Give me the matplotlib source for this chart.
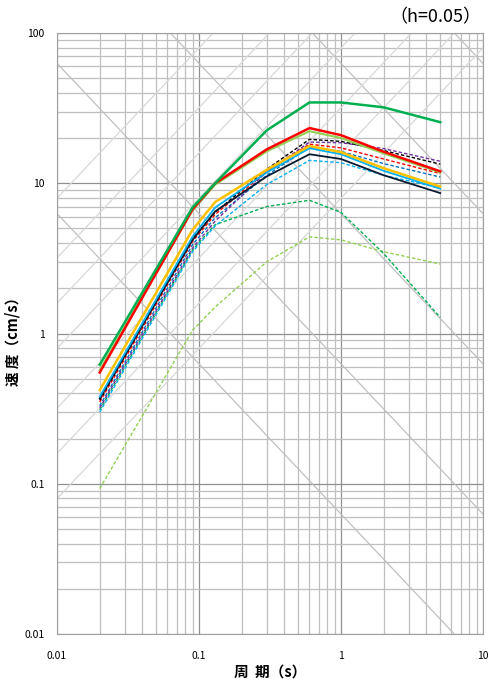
import numpy as np
import matplotlib
matplotlib.use('Agg')
import matplotlib.pyplot as plt
from matplotlib.ticker import LogLocator, NullFormatter, FixedLocator, FixedFormatter

plt.rcParams['font.family'] = ['Noto Sans CJK JP', 'DejaVu Sans']

# 周期 (s)
periods = [0.02, 0.09, 0.13, 0.3, 0.6, 1.0, 2.0, 5.0]

# 速度応答スペクトル (cm/s)
green_solid = [0.62, 6.9, 10.0, 22.5, 34.5, 34.5, 32.0, 25.5]
red_solid = [0.55, 6.7, 10.0, 16.8, 23.3, 20.9, 16.2, 12.0]
lgreen_solid = [0.57, 6.6, 9.8, 16.3, 22.2, 20.0, 15.8, 11.8]
yellow_solid = [0.42, 4.9, 7.5, 12.3, 17.7, 16.1, 12.6, 9.5]
cyan_solid = [0.38, 4.4, 6.9, 11.8, 17.1, 15.6, 12.1, 9.2]
black_solid = [0.37, 4.2, 6.5, 11.1, 15.6, 14.5, 11.3, 8.6]
black_dash = [0.36, 4.3, 6.4, 12.4, 19.6, 19.0, 16.5, 13.4]
purple_dash = [0.32, 3.7, 5.6, 11.9, 18.8, 18.6, 17.0, 14.0]
red_dash = [0.35, 4.1, 6.2, 12.0, 18.2, 17.2, 14.5, 11.6]
blue_dash = [0.33, 3.9, 5.9, 11.3, 17.4, 16.3, 13.5, 11.0]
cyan_dash = [0.30, 3.5, 5.2, 9.8, 14.2, 13.7, 11.3, 9.3]
green_dash = [0.31, 3.6, 5.3, 7.0, 7.7, 6.4, 3.4, 1.28]
lgreen_dash = [0.093, 1.05, 1.5, 3.0, 4.4, 4.2, 3.5, 2.9]

# 補助線: 変位 (cm) と 加速度 (cm/s2)
disp_lines = [0.01, 0.1, 1, 10, 100]
acc_lines = [50, 100, 200, 500, 1000, 2000, 5000]

x_ticks = [0.01, 0.1, 1, 10]
x_labels = ['0.01', '0.1', '1', '10']
y_ticks = [0.01, 0.1, 1, 10, 100]
y_labels = ['0.01', '0.1', '1', '10', '100']

fig = plt.figure(figsize=(4.9, 6.8), dpi=100)
ax = fig.add_axes([57 / 490, 1 - 634 / 680, 426 / 490, 601 / 680])
ax.set_xscale('log')
ax.set_yscale('log')
ax.set_xlim(0.01, 10)
ax.set_ylim(0.01, 100)

# グリッド
ax.xaxis.set_major_locator(FixedLocator(x_ticks))
ax.xaxis.set_major_formatter(FixedFormatter(x_labels))
ax.yaxis.set_major_locator(FixedLocator(y_ticks))
ax.yaxis.set_major_formatter(FixedFormatter(y_labels))
ax.xaxis.set_minor_locator(LogLocator(base=10, subs=np.arange(2, 10)))
ax.yaxis.set_minor_locator(LogLocator(base=10, subs=np.arange(2, 10)))
ax.xaxis.set_minor_formatter(NullFormatter())
ax.yaxis.set_minor_formatter(NullFormatter())
ax.grid(which='major', color='#909090', linewidth=0.9)
ax.grid(which='minor', color='#bfbfbf', linewidth=0.9)
ax.set_axisbelow(True)

tt = np.logspace(-2, 1, 200)
for d in disp_lines:
    ax.plot(tt, 2 * np.pi * d / tt, color='#c0c0c0', linewidth=0.9, zorder=1)
for a in acc_lines:
    ax.plot(tt, a * tt / (2 * np.pi), color='#d8d8d8', linewidth=0.9, zorder=1)

# 破線
dash = (0, (2.5, 1.5))
ax.plot(periods, lgreen_dash, color='#92D050', linewidth=1, linestyle=dash)
ax.plot(periods, green_dash, color='#00B050', linewidth=1, linestyle=dash)
ax.plot(periods, cyan_dash, color='#00B0F0', linewidth=1, linestyle=dash)
ax.plot(periods, blue_dash, color='#0070C0', linewidth=1, linestyle=dash)
ax.plot(periods, red_dash, color='#FF0000', linewidth=1, linestyle=dash)
ax.plot(periods, purple_dash, color='#7030A0', linewidth=1, linestyle=dash)
ax.plot(periods, black_dash, color='#000000', linewidth=1, linestyle=dash)

# 実線
ax.plot(periods, black_solid, color='#0a1a30', linewidth=1.3)
ax.plot(periods, cyan_solid, color='#00B0F0', linewidth=1.3)
ax.plot(periods, yellow_solid, color='#FFC000', linewidth=1.8)
ax.plot(periods, lgreen_solid, color='#92D050', linewidth=1.5)
ax.plot(periods, red_solid, color='#FF0000', linewidth=1.8)
ax.plot(periods, green_solid, color='#00B050', linewidth=1.8)

for s in ax.spines.values():
    s.set_color('#a0a0a0')
ax.tick_params(which='both', length=0)
ax.tick_params(axis='y', labelsize=7.5, pad=9)
ax.tick_params(axis='x', labelsize=7.5, pad=12)

ax.set_xlabel('周  期（s）', fontsize=10.5, fontweight='bold', labelpad=2)
ax.set_ylabel('速 度（cm/s）', fontsize=10.5, fontweight='bold')
ax.yaxis.set_label_coords((21 - 57) / 426, (634 - 338) / 601)
fig.text(481 / 490, 1 - 17 / 680, '（h=0.05）', fontsize=13, ha='right', va='center')

plt.savefig('out.png', dpi=100)
